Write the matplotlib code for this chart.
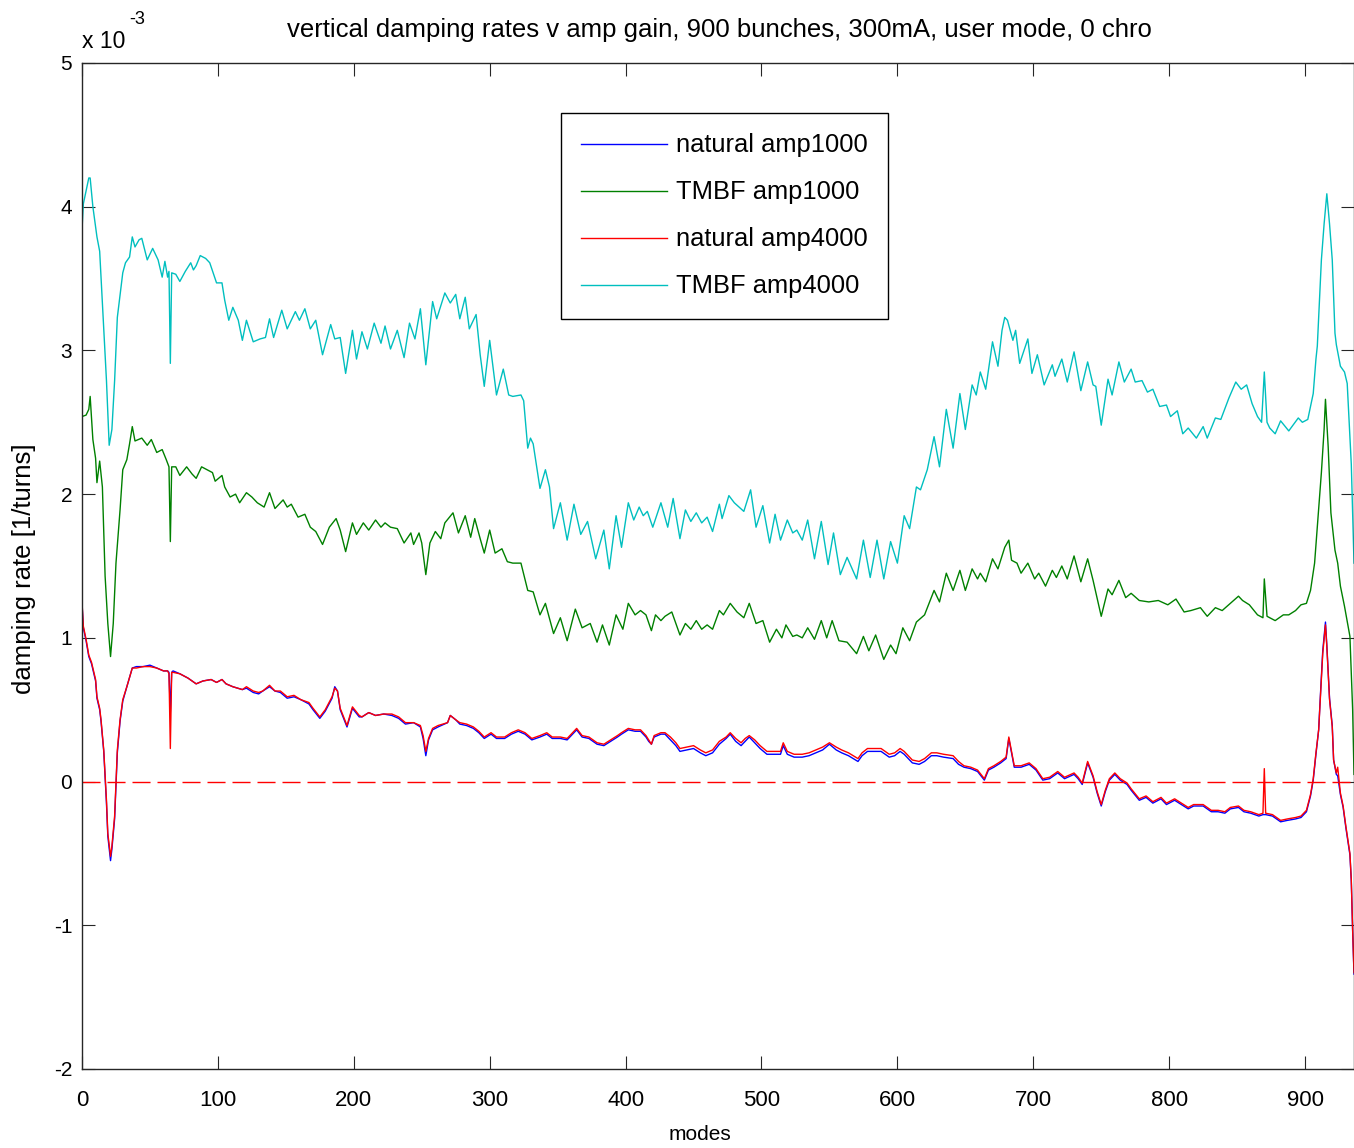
#Vertical damping rates vs amplifier gain, 900 bunches, 300mA, user mode, 0 chro
#values, in units of 1e-3 [1/turns]

import matplotlib
matplotlib.use("Agg")
import matplotlib.pyplot as plt

#
# Data
#

#natural damping (amp1000 and amp4000 lie almost on top of each other)
natModes = [0, 1, 3, 5, 7, 10, 11, 13, 14, 16, 18, 19, 21, 22, 24, 26, 28, 30, 33, 37,
            40, 45, 50, 55, 60, 63, 64, 65, 66, 67, 72, 78, 84, 89, 95, 99, 103, 106, 111, 118,
            121, 126, 130, 133, 138, 142, 146, 151, 156, 161, 167, 170, 175, 179, 184, 186, 188, 190, 195, 199,
            204, 206, 211, 216, 222, 228, 233, 238, 244, 249, 251, 253, 255, 258, 262, 269, 271, 275, 278, 283,
            288, 292, 296, 301, 305, 311, 316, 321, 326, 331, 337, 342, 346, 352, 357, 361, 364, 368, 373, 379,
            384, 389, 394, 397, 402, 407, 411, 415, 417, 419, 421, 426, 429, 433, 437, 440, 445, 450, 455, 459,
            464, 469, 474, 477, 481, 485, 488, 491, 495, 499, 504, 509, 514, 516, 519, 524, 530, 535, 540, 545,
            550, 555, 559, 564, 571, 574, 578, 584, 588, 594, 598, 602, 605, 608, 611, 616, 620, 625, 629, 634,
            641, 645, 649, 654, 659, 664, 667, 671, 676, 680, 682, 684, 686, 691, 697, 702, 707, 712, 718, 723,
            730, 733, 736, 740, 744, 747, 750, 753, 756, 760, 764, 769, 772, 778, 783, 788, 794, 798, 804, 809,
            814, 818, 825, 831, 836, 841, 845, 851, 855, 860, 866, 869, 870, 871, 876, 882, 887, 893, 897, 901,
            904, 906, 908, 910, 911, 913, 915, 916, 918, 920, 921, 923, 924, 926, 928, 930, 933, 934, 935, 936]

naturalAmp4000 = [1.25, 1.08, 0.99, 0.88, 0.83, 0.71, 0.59, 0.51, 0.43, 0.22, -0.13, -0.36, -0.52, -0.45, -0.24, 0.22, 0.43, 0.57, 0.66, 0.79,
                  0.79, 0.80, 0.80, 0.79, 0.77, 0.77, 0.75, 0.23, 0.76, 0.76, 0.75, 0.72, 0.68, 0.70, 0.71, 0.69, 0.71, 0.68, 0.66, 0.64,
                  0.66, 0.63, 0.62, 0.63, 0.67, 0.63, 0.63, 0.59, 0.60, 0.57, 0.55, 0.51, 0.45, 0.50, 0.59, 0.65, 0.63, 0.51, 0.39, 0.52,
                  0.46, 0.45, 0.48, 0.46, 0.47, 0.47, 0.45, 0.41, 0.41, 0.39, 0.32, 0.21, 0.30, 0.37, 0.39, 0.41, 0.46, 0.43, 0.41, 0.40,
                  0.38, 0.35, 0.31, 0.34, 0.31, 0.31, 0.34, 0.36, 0.34, 0.30, 0.32, 0.34, 0.31, 0.31, 0.30, 0.34, 0.37, 0.32, 0.31, 0.27,
                  0.26, 0.29, 0.32, 0.34, 0.37, 0.36, 0.36, 0.32, 0.29, 0.26, 0.32, 0.34, 0.34, 0.31, 0.27, 0.23, 0.24, 0.25, 0.22, 0.20,
                  0.22, 0.28, 0.31, 0.34, 0.30, 0.27, 0.30, 0.32, 0.29, 0.25, 0.21, 0.21, 0.21, 0.27, 0.21, 0.19, 0.19, 0.20, 0.22, 0.24,
                  0.27, 0.24, 0.22, 0.20, 0.16, 0.20, 0.23, 0.23, 0.23, 0.19, 0.20, 0.23, 0.21, 0.18, 0.15, 0.14, 0.16, 0.20, 0.20, 0.19,
                  0.18, 0.14, 0.11, 0.10, 0.08, 0.02, 0.09, 0.11, 0.14, 0.17, 0.31, 0.21, 0.11, 0.11, 0.13, 0.09, 0.02, 0.03, 0.07, 0.03,
                  0.06, 0.03, -0.01, 0.14, 0.04, -0.07, -0.16, -0.06, 0.02, 0.06, 0.02, -0.01, -0.05, -0.12, -0.10, -0.14, -0.11, -0.15, -0.12, -0.15,
                  -0.18, -0.16, -0.16, -0.20, -0.20, -0.21, -0.18, -0.17, -0.20, -0.21, -0.23, -0.22, 0.09, -0.22, -0.23, -0.27, -0.26, -0.25, -0.24, -0.20,
                  -0.09, 0.02, 0.20, 0.36, 0.54, 0.89, 1.09, 0.94, 0.57, 0.38, 0.15, 0.06, 0.10, -0.08, -0.17, -0.31, -0.50, -0.68, -1.03, -1.33]

naturalAmp1000 = [1.24, 1.07, 0.98, 0.87, 0.82, 0.70, 0.58, 0.50, 0.42, 0.21, -0.15, -0.38, -0.55, -0.47, -0.26, 0.20, 0.42, 0.56, 0.66, 0.79,
                  0.80, 0.80, 0.81, 0.79, 0.77, 0.77, 0.76, 0.48, 0.76, 0.77, 0.75, 0.72, 0.68, 0.70, 0.71, 0.69, 0.71, 0.68, 0.66, 0.64,
                  0.65, 0.62, 0.61, 0.63, 0.66, 0.63, 0.62, 0.58, 0.59, 0.57, 0.54, 0.50, 0.44, 0.49, 0.58, 0.66, 0.63, 0.50, 0.38, 0.51,
                  0.45, 0.45, 0.48, 0.46, 0.47, 0.46, 0.44, 0.40, 0.41, 0.38, 0.30, 0.18, 0.29, 0.36, 0.38, 0.41, 0.46, 0.43, 0.40, 0.39,
                  0.37, 0.34, 0.30, 0.33, 0.30, 0.30, 0.33, 0.35, 0.33, 0.29, 0.31, 0.33, 0.30, 0.30, 0.29, 0.33, 0.36, 0.31, 0.30, 0.26,
                  0.25, 0.28, 0.31, 0.33, 0.36, 0.35, 0.35, 0.31, 0.28, 0.26, 0.31, 0.33, 0.33, 0.29, 0.25, 0.21, 0.22, 0.23, 0.20, 0.18,
                  0.20, 0.26, 0.30, 0.33, 0.28, 0.25, 0.28, 0.31, 0.27, 0.23, 0.19, 0.19, 0.19, 0.25, 0.19, 0.17, 0.17, 0.18, 0.20, 0.22,
                  0.26, 0.22, 0.20, 0.18, 0.14, 0.18, 0.21, 0.21, 0.21, 0.17, 0.18, 0.21, 0.19, 0.16, 0.13, 0.12, 0.14, 0.18, 0.18, 0.17,
                  0.16, 0.12, 0.10, 0.09, 0.07, 0.01, 0.08, 0.10, 0.13, 0.16, 0.30, 0.20, 0.10, 0.10, 0.12, 0.08, 0.01, 0.02, 0.06, 0.02,
                  0.05, 0.02, -0.02, 0.13, 0.03, -0.08, -0.17, -0.07, 0.01, 0.05, 0.01, -0.02, -0.06, -0.13, -0.11, -0.15, -0.12, -0.16, -0.13, -0.16,
                  -0.19, -0.17, -0.17, -0.21, -0.21, -0.22, -0.19, -0.18, -0.21, -0.22, -0.24, -0.23, -0.23, -0.23, -0.24, -0.28, -0.27, -0.26, -0.25, -0.21,
                  -0.10, 0.01, 0.19, 0.36, 0.55, 0.91, 1.11, 0.95, 0.58, 0.39, 0.15, 0.05, 0.04, -0.09, -0.18, -0.32, -0.51, -0.69, -1.04, -1.34]

#TMBF amp1000
tmbf1000Modes = [0, 3, 5, 6, 7, 8, 10, 11, 13, 15, 17, 19, 21, 23, 25, 28, 30, 33, 35, 37,
                 39, 44, 48, 51, 55, 59, 62, 64, 65, 66, 69, 72, 77, 81, 84, 88, 92, 96, 98, 103,
                 105, 109, 113, 116, 121, 125, 129, 134, 138, 142, 148, 151, 154, 159, 164, 168, 172, 177, 182, 187,
                 190, 194, 199, 202, 207, 211, 216, 220, 223, 227, 232, 237, 242, 244, 248, 250, 253, 256, 260, 264,
                 267, 273, 277, 282, 286, 289, 293, 296, 300, 304, 309, 313, 317, 323, 328, 332, 337, 341, 347, 352,
                 357, 363, 368, 374, 379, 383, 388, 393, 398, 402, 407, 411, 415, 419, 422, 426, 429, 434, 440, 444,
                 448, 452, 456, 460, 464, 469, 472, 477, 482, 487, 491, 496, 501, 506, 511, 515, 518, 523, 526, 530,
                 534, 539, 544, 548, 552, 557, 563, 570, 575, 579, 584, 590, 595, 599, 604, 609, 614, 620, 627, 631,
                 636, 641, 646, 650, 655, 659, 661, 665, 670, 674, 679, 682, 684, 688, 691, 696, 701, 704, 709, 714,
                 717, 721, 725, 730, 735, 740, 744, 750, 755, 758, 763, 768, 772, 778, 785, 792, 799, 805, 811, 816,
                 823, 828, 834, 839, 845, 851, 854, 859, 865, 869, 870, 872, 878, 884, 888, 893, 897, 901, 904, 907,
                 909, 912, 914, 915, 917, 919, 922, 924, 926, 929, 933, 935, 936]

tmbfAmp1000 = [2.54, 2.55, 2.59, 2.68, 2.53, 2.38, 2.25, 2.08, 2.23, 2.05, 1.43, 1.10, 0.87, 1.10, 1.52, 1.89, 2.17, 2.24, 2.35, 2.47,
               2.37, 2.39, 2.34, 2.38, 2.29, 2.31, 2.24, 2.19, 1.67, 2.19, 2.19, 2.13, 2.19, 2.14, 2.11, 2.19, 2.17, 2.15, 2.09, 2.13,
               2.05, 1.98, 2.00, 1.94, 2.01, 1.98, 1.94, 1.91, 2.01, 1.90, 1.96, 1.91, 1.93, 1.84, 1.86, 1.77, 1.74, 1.65, 1.77, 1.83,
               1.75, 1.60, 1.80, 1.72, 1.80, 1.75, 1.82, 1.77, 1.80, 1.77, 1.76, 1.66, 1.73, 1.65, 1.73, 1.66, 1.44, 1.66, 1.74, 1.69,
               1.80, 1.87, 1.73, 1.85, 1.70, 1.83, 1.69, 1.59, 1.75, 1.59, 1.62, 1.53, 1.52, 1.52, 1.33, 1.32, 1.16, 1.24, 1.03, 1.14,
               0.98, 1.20, 1.07, 1.10, 0.97, 1.09, 0.95, 1.16, 1.06, 1.24, 1.16, 1.19, 1.16, 1.05, 1.16, 1.12, 1.15, 1.18, 1.02, 1.10,
               1.06, 1.12, 1.06, 1.09, 1.06, 1.19, 1.16, 1.24, 1.18, 1.14, 1.24, 1.10, 1.12, 0.97, 1.06, 1.00, 1.09, 1.01, 1.02, 1.00,
               1.07, 0.99, 1.12, 1.00, 1.12, 0.98, 0.97, 0.89, 1.01, 0.91, 1.02, 0.85, 0.95, 0.89, 1.07, 0.98, 1.11, 1.16, 1.33, 1.25,
               1.45, 1.33, 1.47, 1.33, 1.48, 1.41, 1.45, 1.39, 1.55, 1.48, 1.63, 1.68, 1.54, 1.52, 1.45, 1.52, 1.41, 1.45, 1.36, 1.47,
               1.42, 1.50, 1.41, 1.57, 1.39, 1.55, 1.40, 1.15, 1.34, 1.30, 1.40, 1.28, 1.31, 1.26, 1.25, 1.26, 1.23, 1.27, 1.18, 1.19,
               1.21, 1.15, 1.21, 1.19, 1.24, 1.29, 1.26, 1.23, 1.16, 1.14, 1.41, 1.15, 1.12, 1.16, 1.16, 1.19, 1.23, 1.24, 1.33, 1.52,
               1.77, 2.15, 2.45, 2.66, 2.33, 1.87, 1.61, 1.52, 1.36, 1.22, 1.01, 0.50, 0.05]

#TMBF amp4000
tmbf4000Modes = [0, 1, 5, 6, 8, 11, 13, 18, 20, 22, 24, 26, 30, 32, 35, 37, 39, 42, 44, 48,
                 52, 56, 59, 61, 63, 64, 65, 66, 69, 72, 76, 80, 82, 84, 87, 91, 94, 99, 103, 105,
                 108, 111, 115, 118, 121, 126, 131, 135, 138, 141, 147, 151, 157, 160, 164, 168, 172, 177, 183, 186,
                 190, 194, 199, 202, 206, 210, 215, 220, 223, 227, 232, 237, 241, 245, 249, 253, 258, 261, 267, 271,
                 275, 278, 282, 285, 290, 293, 296, 300, 305, 310, 314, 317, 323, 325, 328, 330, 332, 337, 341, 344,
                 347, 352, 357, 362, 367, 372, 378, 384, 388, 393, 397, 402, 406, 410, 413, 416, 420, 426, 431, 435,
                 440, 444, 448, 452, 456, 460, 464, 469, 471, 476, 480, 487, 492, 496, 501, 506, 510, 514, 519, 523,
                 526, 530, 534, 539, 544, 549, 553, 558, 563, 570, 575, 580, 585, 590, 595, 600, 605, 609, 614, 617,
                 622, 627, 631, 636, 641, 646, 650, 655, 658, 661, 665, 670, 674, 677, 679, 681, 685, 687, 690, 696,
                 699, 703, 708, 714, 716, 721, 725, 730, 735, 740, 744, 746, 750, 755, 758, 763, 767, 772, 775, 780,
                 784, 788, 793, 798, 801, 806, 810, 814, 820, 825, 828, 834, 838, 844, 849, 853, 857, 861, 865, 868,
                 870, 872, 874, 878, 882, 888, 895, 898, 902, 906, 908, 909, 912, 914, 916, 918, 920, 922, 923, 926,
                 929, 931, 934, 936]

tmbfAmp4000 = [3.84, 4.02, 4.20, 4.20, 4.00, 3.79, 3.69, 2.79, 2.34, 2.45, 2.79, 3.23, 3.54, 3.61, 3.65, 3.79, 3.72, 3.77, 3.78, 3.63,
               3.71, 3.63, 3.51, 3.62, 3.51, 3.55, 2.91, 3.54, 3.53, 3.48, 3.55, 3.61, 3.56, 3.59, 3.66, 3.64, 3.61, 3.47, 3.47, 3.35,
               3.21, 3.30, 3.21, 3.07, 3.21, 3.06, 3.08, 3.09, 3.22, 3.09, 3.28, 3.15, 3.27, 3.21, 3.29, 3.15, 3.21, 2.97, 3.18, 3.08,
               3.09, 2.84, 3.14, 2.94, 3.13, 3.01, 3.19, 3.05, 3.17, 3.01, 3.14, 2.95, 3.19, 3.08, 3.29, 2.90, 3.34, 3.22, 3.40, 3.33,
               3.39, 3.22, 3.37, 3.15, 3.25, 2.97, 2.75, 3.07, 2.69, 2.87, 2.69, 2.68, 2.69, 2.65, 2.32, 2.39, 2.35, 2.04, 2.17, 2.05,
               1.76, 1.94, 1.68, 1.93, 1.72, 1.81, 1.55, 1.75, 1.48, 1.85, 1.63, 1.94, 1.82, 1.91, 1.85, 1.88, 1.77, 1.94, 1.77, 1.97,
               1.69, 1.89, 1.81, 1.87, 1.80, 1.84, 1.74, 1.93, 1.83, 1.99, 1.94, 1.88, 2.03, 1.77, 1.92, 1.66, 1.86, 1.68, 1.82, 1.73,
               1.75, 1.68, 1.82, 1.55, 1.81, 1.51, 1.73, 1.44, 1.56, 1.41, 1.68, 1.42, 1.68, 1.41, 1.67, 1.52, 1.85, 1.76, 2.05, 2.03,
               2.17, 2.40, 2.19, 2.59, 2.32, 2.70, 2.45, 2.76, 2.69, 2.85, 2.73, 3.06, 2.89, 3.14, 3.23, 3.21, 3.07, 3.14, 2.91, 3.08,
               2.84, 2.97, 2.76, 2.90, 2.82, 2.94, 2.78, 2.99, 2.72, 2.92, 2.76, 2.75, 2.48, 2.80, 2.69, 2.92, 2.78, 2.87, 2.78, 2.79,
               2.71, 2.73, 2.61, 2.62, 2.54, 2.58, 2.42, 2.46, 2.39, 2.47, 2.39, 2.53, 2.52, 2.67, 2.78, 2.73, 2.76, 2.63, 2.54, 2.50,
               2.85, 2.50, 2.46, 2.42, 2.51, 2.44, 2.53, 2.50, 2.52, 2.70, 2.94, 3.03, 3.63, 3.88, 4.09, 3.88, 3.63, 3.12, 3.04, 2.89,
               2.85, 2.77, 2.21, 1.52]

legendLabels = ["natural amp1000", "TMBF amp1000", "natural amp4000", "TMBF amp4000"]
xTicks = [0, 100, 200, 300, 400, 500, 600, 700, 800, 900]
yTicks = [-2, -1, 0, 1, 2, 3, 4, 5]

#
# Plot
#

plt.rcParams['font.family'] = ['Liberation Sans', 'DejaVu Sans']
plt.rcParams['axes.unicode_minus'] = False

W, H = 1354., 1148.
fig = plt.figure(figsize=(W/100., H/100.), dpi=100)
ax = fig.add_axes([82/W, 1 - 1069/H, (1354 - 82)/W, (1069 - 63)/H])

ax.plot(natModes, naturalAmp1000, color=(0, 0, 1), lw=1.0, label=legendLabels[0])
ax.plot(tmbf1000Modes, tmbfAmp1000, color=(0, 0.5, 0), lw=1.0, label=legendLabels[1])
ax.plot(natModes, naturalAmp4000, color=(1, 0, 0), lw=1.0, label=legendLabels[2])
ax.plot(tmbf4000Modes, tmbfAmp4000, color=(0, 0.75, 0.75), lw=1.0, label=legendLabels[3])
ax.axhline(0, color=(1, 0, 0), lw=1.0, ls=(0, (13, 5)))

ax.set_xlim(0, 936)
ax.set_ylim(-2, 5)
ax.set_xticks(xTicks)
ax.set_yticks(yTicks)
ax.tick_params(direction='in', length=9.5, width=0.8, top=True, right=True, colors='#262626')
ax.tick_params(axis='x', pad=15, labelsize=16, labelcolor='k')
ax.tick_params(axis='y', pad=7, labelsize=15, labelcolor='k')
for s in ax.spines.values() :
  s.set_linewidth(1.0)
  s.set_color('#262626')

leg = ax.legend(loc='upper left', bbox_to_anchor=((561 - 82)/1272., (1069 - 113)/1006.),
                borderaxespad=0, fontsize=18.4, handlelength=3.35, handletextpad=0.35,
                labelspacing=0.9, borderpad=0.8, fancybox=False, framealpha=1)
leg.get_frame().set_edgecolor('k')
leg.get_frame().set_linewidth(1.0)

fig.text(719/W, 1 - 30/H, "vertical damping rates v amp gain, 900 bunches, 300mA, user mode, 0 chro",
         ha='center', va='center', fontsize=18.5)
fig.text(700/W, 1 - 1134/H, "modes", ha='center', va='center', fontsize=15)
fig.text(24/W, 1 - 569/H, "damping rate [1/turns]", ha='center', va='center', rotation=90, fontsize=18.5)
fig.text(82/W, 1 - 48/H, "x 10", ha='left', va='baseline', fontsize=16.5)
fig.text(129/W, 1 - 24/H, "-3", ha='left', va='baseline', fontsize=13)

fig.savefig("out.png", dpi=100)
